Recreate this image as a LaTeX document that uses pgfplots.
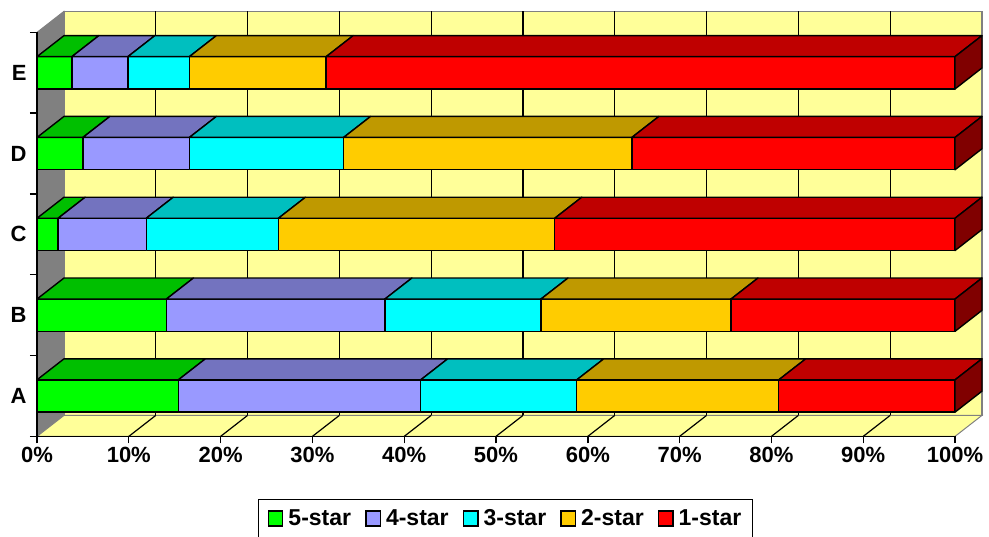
\documentclass[border=0pt]{standalone}
\usepackage{pgfplots}
\pgfplotsset{compat=1.18}
\usepackage{fontspec}
\setmainfont{Liberation Sans}
\definecolor{wall}{HTML}{FFFF99}
\definecolor{lwall}{HTML}{808080}
\definecolor{gF}{HTML}{00FF00}\definecolor{gT}{HTML}{00BF00}
\definecolor{pF}{HTML}{9999FF}\definecolor{pT}{HTML}{7373BF}
\definecolor{cF}{HTML}{00FFFF}\definecolor{cT}{HTML}{00BFBF}
\definecolor{oF}{HTML}{FFCC00}\definecolor{oT}{HTML}{BF9900}
\definecolor{rF}{HTML}{FF0000}\definecolor{rT}{HTML}{BF0000}\definecolor{rS}{HTML}{800000}
\pgfplotsset{
  sqleg/.style={legend image code/.code={\draw[##1,draw=black,line width=1.4pt] (0pt,-7.5pt) rectangle (14.5pt,7.5pt);}},
  edge/.style={forget plot,draw=black,line width=1.4pt,line join=round},
}
% #1 front colour, #2 top colour, #3 start, #4 end, #5 category position
\newcommand{\seg}[5]{%
  \pgfmathsetmacro\yB{#5-0.2}%
  \pgfmathsetmacro\yT{#5+0.2}%
  \pgfmathsetmacro\yTT{#5+0.46}%
  \pgfmathsetmacro\xA{#3+2.94}%
  \pgfmathsetmacro\xB{#4+2.94}%
  \addplot[edge,fill=#1] coordinates {(#3,\yB) (#4,\yB) (#4,\yT) (#3,\yT)} -- cycle;
  \addplot[edge,fill=#2] coordinates {(#3,\yT) (#4,\yT) (\xB,\yTT) (\xA,\yTT)} -- cycle;
}
% #1 category position, #2..#5 cumulative shares (%)
\newcommand{\onebar}[5]{%
  \seg{gF}{gT}{0}{#2}{#1}%
  \seg{pF}{pT}{#2}{#3}{#1}%
  \seg{cF}{cT}{#3}{#4}{#1}%
  \seg{oF}{oT}{#4}{#5}{#1}%
  \seg{rF}{rT}{#5}{100}{#1}%
  \pgfmathsetmacro\yB{#1-0.2}%
  \pgfmathsetmacro\yBB{#1+0.06}%
  \pgfmathsetmacro\yT{#1+0.2}%
  \pgfmathsetmacro\yTT{#1+0.46}%
  \addplot[edge,fill=rS] coordinates {(100,\yB) (102.94,\yBB) (102.94,\yTT) (100,\yT)} -- cycle;
}
\begin{document}
\begin{tikzpicture}
\path[use as bounding box] (-37pt,-141pt) rectangle (952pt,396pt);
\begin{axis}[
  anchor=origin, at={(0pt,0pt)},
  x=9.18pt, y=80.8pt,
  xmin=0, xmax=100, ymin=-0.5, ymax=4.5,
  enlargelimits=false,
  clip=false,
  axis on top,
  axis x line*=bottom, axis y line*=left,
  axis line style={line width=1.4pt,black,-},
  tick align=outside,
  major tick length=7pt, minor tick length=7pt,
  every tick/.append style={black,line width=1.4pt},
  xtick={0,10,...,100},
  xticklabels={0\%,10\%,20\%,30\%,40\%,50\%,60\%,70\%,80\%,90\%,100\%},
  ytick={0,1,2,3,4},
  yticklabels={A,B,C,D,E},
  every major y tick/.append style={draw=none},
  minor ytick={-0.5,0.5,1.5,2.5,3.5,4.5},
  tick label style={font=\fontsize{22}{24}\selectfont\bfseries},
  legend columns=5,
  legend style={at={(0.5103,-0.155)}, anchor=north, draw=black, line width=1.4pt,
    font=\fontsize{23}{25}\selectfont\bfseries, inner xsep=9pt, inner ysep=8pt,
    /tikz/every odd column/.append style={column sep=3pt},
    /tikz/every even column/.append style={column sep=12pt}},
]
\addlegendimage{sqleg,fill=gF}\addlegendentry{5-star}
\addlegendimage{sqleg,fill=pF}\addlegendentry{4-star}
\addlegendimage{sqleg,fill=cF}\addlegendentry{3-star}
\addlegendimage{sqleg,fill=oF}\addlegendentry{2-star}
\addlegendimage{sqleg,fill=rF}\addlegendentry{1-star}
% back wall, left wall, floor
\addplot[forget plot,fill=wall,draw=lwall,line width=1.2pt] coordinates {(2.94,-0.24) (102.94,-0.24) (102.94,4.76) (2.94,4.76)} -- cycle;
\addplot[forget plot,fill=lwall,draw=lwall,line width=1pt] coordinates {(0,-0.5) (2.94,-0.24) (2.94,4.76) (0,4.5)} -- cycle;
\addplot[forget plot,fill=wall,draw=lwall,line width=1pt] coordinates {(0,-0.5) (100,-0.5) (102.94,-0.24) (2.94,-0.24)} -- cycle;
% gridlines on the back wall and on the floor
\addplot[forget plot,black,line width=1.2pt] coordinates {(12.94,-0.24) (12.94,4.76)};
\addplot[forget plot,black,line width=1.2pt] coordinates {(22.94,-0.24) (22.94,4.76)};
\addplot[forget plot,black,line width=1.2pt] coordinates {(32.94,-0.24) (32.94,4.76)};
\addplot[forget plot,black,line width=1.2pt] coordinates {(42.94,-0.24) (42.94,4.76)};
\addplot[forget plot,black,line width=1.2pt] coordinates {(52.94,-0.24) (52.94,4.76)};
\addplot[forget plot,black,line width=1.2pt] coordinates {(62.94,-0.24) (62.94,4.76)};
\addplot[forget plot,black,line width=1.2pt] coordinates {(72.94,-0.24) (72.94,4.76)};
\addplot[forget plot,black,line width=1.2pt] coordinates {(82.94,-0.24) (82.94,4.76)};
\addplot[forget plot,black,line width=1.2pt] coordinates {(92.94,-0.24) (92.94,4.76)};
\addplot[forget plot,black,line width=1.2pt] coordinates {(10,-0.5) (12.94,-0.24)};
\addplot[forget plot,black,line width=1.2pt] coordinates {(20,-0.5) (22.94,-0.24)};
\addplot[forget plot,black,line width=1.2pt] coordinates {(30,-0.5) (32.94,-0.24)};
\addplot[forget plot,black,line width=1.2pt] coordinates {(40,-0.5) (42.94,-0.24)};
\addplot[forget plot,black,line width=1.2pt] coordinates {(50,-0.5) (52.94,-0.24)};
\addplot[forget plot,black,line width=1.2pt] coordinates {(60,-0.5) (62.94,-0.24)};
\addplot[forget plot,black,line width=1.2pt] coordinates {(70,-0.5) (72.94,-0.24)};
\addplot[forget plot,black,line width=1.2pt] coordinates {(80,-0.5) (82.94,-0.24)};
\addplot[forget plot,black,line width=1.2pt] coordinates {(90,-0.5) (92.94,-0.24)};
% bars: cumulative boundaries 5-star | 4-star | 3-star | 2-star | 1-star
\onebar{4}{3.8}{9.9}{16.6}{31.5}   % E
\onebar{3}{5.0}{16.6}{33.4}{64.8}  % D
\onebar{2}{2.3}{11.9}{26.3}{56.4}  % C
\onebar{1}{14.1}{37.9}{54.9}{75.6} % B
\onebar{0}{15.4}{41.8}{58.8}{80.8} % A
\end{axis}
\end{tikzpicture}
\end{document}
